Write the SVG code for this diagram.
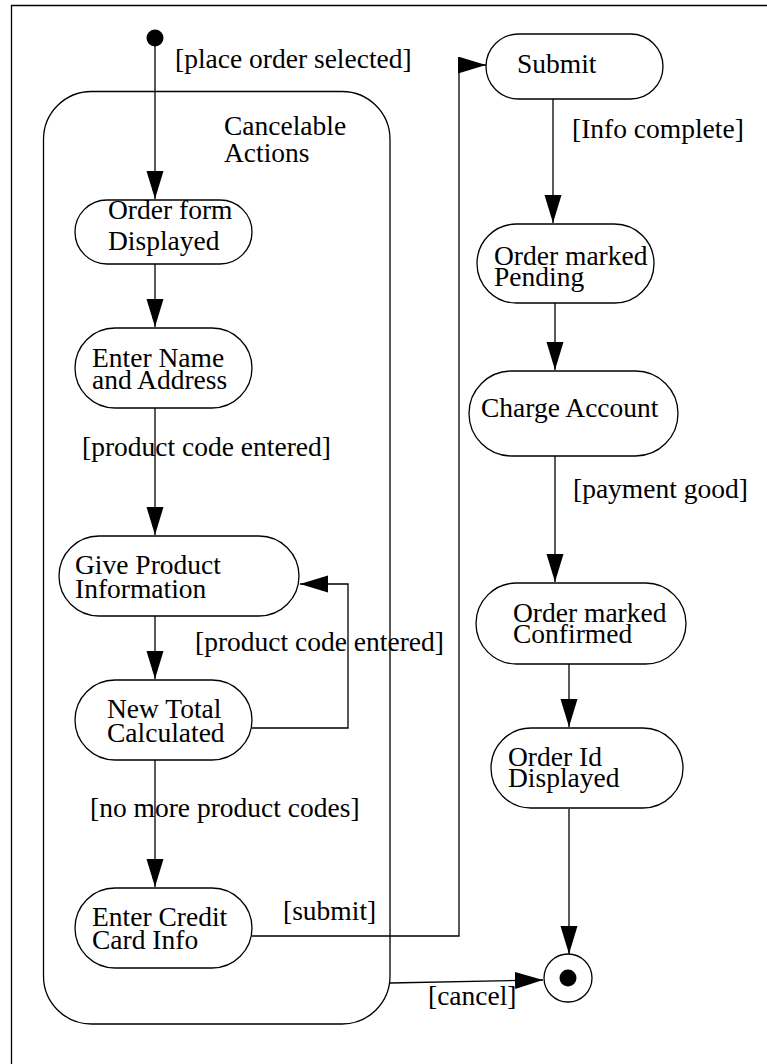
<svg xmlns="http://www.w3.org/2000/svg" width="767" height="1064" viewBox="0 0 767 1064">
<style>
.n{fill:#fff;stroke:#000;stroke-width:1.3}
.c{fill:none;stroke:#000;stroke-width:1.3}
text{font-family:"Liberation Serif","Times New Roman",serif;font-size:27.5px;fill:#000}
</style>
<defs>
<marker id="ah" markerUnits="userSpaceOnUse" markerWidth="29" markerHeight="18" refX="28" refY="8.5" orient="auto">
<path d="M0,0 L28,8.5 L0,17 z" fill="#000"/>
</marker>
</defs>
<rect width="767" height="1064" fill="#fff"/>
<path d="M11.5,1064 V5.5 H767" fill="none" stroke="#000" stroke-width="1.3"/>

<g id="cancelable">
<rect x="43.5" y="91.5" width="346.5" height="932.5" rx="48" ry="48" fill="none" stroke="#000" stroke-width="1.3"/>
<text x="224" y="135">Cancelable</text>
<text x="224" y="162">Actions</text>
</g>

<g id="connectors">
<path class="c" d="M155,38 V199" marker-end="url(#ah)"/>
<path class="c" d="M155,264 V327" marker-end="url(#ah)"/>
<path class="c" d="M155,408 V535" marker-end="url(#ah)"/>
<path class="c" d="M155,616 V679" marker-end="url(#ah)"/>
<path class="c" d="M252,728 H348 V584 H300" marker-end="url(#ah)"/>
<path class="c" d="M155,760 V887" marker-end="url(#ah)"/>
<path class="c" d="M252,936 H459 V65 H486" marker-end="url(#ah)"/>
<path class="c" d="M390,983 L543,980" marker-end="url(#ah)"/>
<path class="c" d="M553,99 V223" marker-end="url(#ah)"/>
<path class="c" d="M555,303 V370" marker-end="url(#ah)"/>
<path class="c" d="M555,456 V582" marker-end="url(#ah)"/>
<path class="c" d="M569,664 V727" marker-end="url(#ah)"/>
<path class="c" d="M569,809 V954" marker-end="url(#ah)"/>
<text x="175" y="68">[place order selected]</text>
<text x="82" y="456">[product code entered]</text>
<text x="195" y="651">[product code entered]</text>
<text x="90" y="817">[no more product codes]</text>
<text x="283" y="920">[submit]</text>
<text x="428" y="1005">[cancel]</text>
<text x="572" y="138">[Info complete]</text>
<text x="573" y="498">[payment good]</text>
</g>

<g id="initial"><circle cx="155" cy="38" r="8.5" fill="#000"/></g>

<g id="order-form">
<rect class="n" x="75" y="200" width="177" height="64" rx="32"/>
<text x="108" y="219">Order form</text>
<text x="108" y="250">Displayed</text>
</g>
<g id="enter-name">
<rect class="n" x="75" y="328" width="177" height="80" rx="40"/>
<text x="92" y="367">Enter Name</text>
<text x="92" y="389">and Address</text>
</g>
<g id="give-product">
<rect class="n" x="59" y="536" width="240" height="80" rx="40"/>
<text x="75" y="574">Give Product</text>
<text x="75" y="598">Information</text>
</g>
<g id="new-total">
<rect class="n" x="75" y="680" width="177" height="80" rx="40"/>
<text x="107" y="718">New Total</text>
<text x="107" y="742">Calculated</text>
</g>
<g id="enter-credit">
<rect class="n" x="75" y="888" width="177" height="80" rx="40"/>
<text x="92" y="926">Enter Credit</text>
<text x="92" y="949">Card Info</text>
</g>
<g id="submit">
<rect class="n" x="486" y="34" width="177" height="65" rx="32.5"/>
<text x="517" y="73">Submit</text>
</g>
<g id="pending">
<rect class="n" x="477" y="224" width="177" height="79" rx="39.5"/>
<text x="494" y="265">Order marked</text>
<text x="494" y="286">Pending</text>
</g>
<g id="charge">
<rect class="n" x="469" y="371" width="209" height="85" rx="42.5"/>
<text x="481" y="417">Charge Account</text>
</g>
<g id="confirmed">
<rect class="n" x="476" y="583" width="210" height="81" rx="40.5"/>
<text x="513" y="622">Order marked</text>
<text x="513" y="643">Confirmed</text>
</g>
<g id="order-id">
<rect class="n" x="491" y="728" width="192" height="80" rx="40"/>
<text x="508" y="766">Order Id</text>
<text x="508" y="787">Displayed</text>
</g>
<g id="final">
<circle cx="568" cy="978" r="24" class="n"/>
<circle cx="568" cy="978" r="8.5" fill="#000"/>
</g>
</svg>
